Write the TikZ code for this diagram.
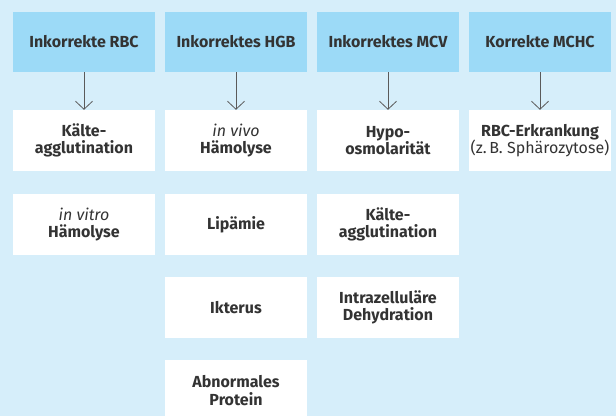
\documentclass[tikz,border=0pt]{standalone}
\usepackage{fontspec}
\setmainfont{Fira Sans}
\usetikzlibrary{arrows.meta}
\definecolor{bgblue}{RGB}{214,238,250}
\definecolor{hdblue}{RGB}{156,218,247}
\definecolor{txt}{RGB}{51,51,51}
\definecolor{arr}{RGB}{90,90,90}
\begin{document}
\begin{tikzpicture}[x=1pt,y=-1pt,
  base/.style={minimum width=142pt, inner sep=0pt, align=center, text=txt, font=\fontsize{16}{17.5}\selectfont\bfseries},
  header/.style={base, fill=hdblue, minimum height=60pt},
  item/.style={base, fill=white, minimum height=61pt},
  conn/.style={draw=arr, line width=0.8pt, -{Straight Barb[length=8pt,width=17pt,line width=0.8pt]}}]
\useasboundingbox (0,0) rectangle (616,416);
\clip (0,0) rectangle (616,416);
\fill[bgblue] (0,0) rectangle (616,416);
% headers
\node[header] (h1) at (84,42) {Inkorrekte RBC};
\node[header] (h2) at (236,42) {Inkorrektes HGB};
\node[header] (h3) at (388,42) {Inkorrektes MCV};
\node[header] (h4) at (540,42) {Korrekte MCHC};
% column 1
\node[item] (a1) at (84,140.5) {Kälte-\\agglutination};
\node[item] (a2) at (84,224.5) {{\mdseries\itshape in vitro}\\Hämolyse};
% column 2
\node[item] (b1) at (236,140.5) {{\mdseries\itshape in vivo}\\Hämolyse};
\node[item] (b2) at (236,224.5) {Lipämie};
\node[item] (b3) at (236,307.5) {Ikterus};
\node[item] (b4) at (236,390.5) {Abnormales\\Protein};
% column 3
\node[item] (c1) at (388,140.5) {Hypo-\\osmolarität};
\node[item] (c2) at (388,224.5) {Kälte-\\agglutination};
\node[item] (c3) at (388,307.5) {Intrazelluläre\\Dehydration};
% column 4
\node[item] (d1) at (540,140.5) {RBC-Erkrankung\\{\mdseries (z.\,B. Sphärozytose)}};
% arrows
\draw[conn] (h1.south) -- (a1.north);
\draw[conn] (h2.south) -- (b1.north);
\draw[conn] (h3.south) -- (c1.north);
\draw[conn] (h4.south) -- (d1.north);
\end{tikzpicture}
\end{document}
